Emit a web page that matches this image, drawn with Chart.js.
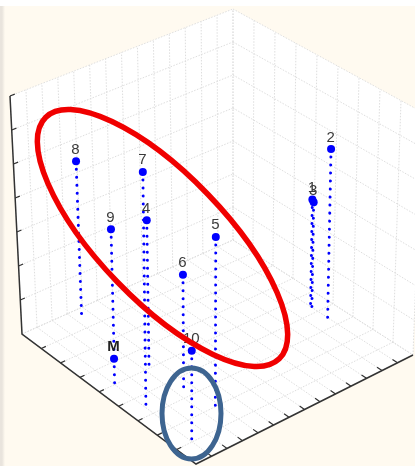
<!DOCTYPE html>
<html>
<head>
<meta charset="utf-8">
<title>3D scatter</title>
<script src="https://cdn.jsdelivr.net/npm/chart.js@4/dist/chart.umd.min.js"></script>
<style>
    html, body { margin: 0; padding: 0; width: 415px; height: 466px; overflow: hidden; }
    body {
        background:
            linear-gradient(#fff 6px, rgba(255, 255, 255, 0) 6px),
            linear-gradient(90deg, #e9e4dd 2px, rgba(255, 250, 240, 0) 5px),
            #fffaf0;
    }
    canvas { display: block; }
</style>
</head>
<body>
<canvas id="chart" width="415" height="466"></canvas>
<script>
// values, in grid units of the 3D box
var pointLabels = ['8', '7', '4', '9', 'M', '6', '5', '10', '1', '3', '2'];
var pointX = [0.43, 5.48, 4.07, 2.72, 3.96, 5.82, 7.25, 7.9, 4.72, 4.74, 5.56];
var pointY = [3.4, 1.17, 3.17, 2.6, 1.05, 3.2, 3.45, 1.1, 12.9, 12.96, 12.92];
var pointZ = [4.6, 6.52, 4.28, 3.63, 0.71, 3.37, 4.89, 2.44, 3.2, 3.11, 4.97];

var gridX = 9;
var gridY = 14;
var gridZ = 7;

// where the corners of the box sit in the picture (perspective view)
var floorCorners = { a: [22, 334], b: [196, 464], c: [413, 355], d: [233, 240] };
var topCorners = { a: [10, 96], b: [197, 205], c: [422, 112], d: [233, 9] };

function lerp(a, b, t) {
    return a + (b - a) * t;
}

function corner(set, s, t, i) {
    return lerp(lerp(set.a[i], set.b[i], s), lerp(set.d[i], set.c[i], s), t);
}

function project(x, y, z) {
    var s = x / gridX, t = y / gridY, w = z / gridZ;
    return {
        x: lerp(corner(floorCorners, s, t, 0), corner(topCorners, s, t, 0), w),
        y: lerp(corner(floorCorners, s, t, 1), corner(topCorners, s, t, 1), w)
    };
}

var GAP = { x: NaN, y: NaN };

function buildGrid() {
    var out = [];
    function seg(p, q) {
        out.push(project(p[0], p[1], p[2]), project(q[0], q[1], q[2]), GAP);
    }
    for (var i = 0; i <= gridX; i++) {
        seg([i, 0, 0], [i, gridY, 0]);
        seg([i, gridY, 0], [i, gridY, gridZ]);
    }
    for (var j = 0; j <= gridY; j++) {
        seg([0, j, 0], [gridX, j, 0]);
        seg([0, j, 0], [0, j, gridZ]);
    }
    for (var k = 0; k <= gridZ; k++) {
        seg([0, 0, k], [0, gridY, k]);
        seg([0, gridY, k], [gridX, gridY, k]);
    }
    return out;
}

function buildTicks() {
    var out = [];
    function seg(p, q) {
        out.push(project(p[0], p[1], p[2]), project(q[0], q[1], q[2]), GAP);
    }
    for (var i = 1; i < gridX; i++) seg([i, 0, 0], [i, 0.3, 0]);
    for (var j = 1; j < gridY; j++) seg([gridX, j, 0], [gridX - 0.25, j, 0]);
    for (var k = 1; k <= gridZ; k++) seg([0, 0, k], [0, 0.3, k]);
    return out;
}

function buildStems() {
    var out = [];
    pointX.forEach(function(x, i) {
        out.push(project(x, pointY[i], pointZ[i]), project(x, pointY[i], 0), GAP);
    });
    return out;
}

var markers = pointX.map(function(x, i) {
    return project(x, pointY[i], pointZ[i]);
});

var overlayPlugin = {
    id: 'overlay',
    afterDatasetsDraw: function(chart) {
        var ctx = chart.ctx;
        var sx = chart.scales.x, sy = chart.scales.y;

        // point names sit just above each marker
        ctx.save();
        ctx.textAlign = 'center';
        ctx.textBaseline = 'alphabetic';
        markers.forEach(function(m, i) {
            var bold = pointLabels[i] === 'M';
            ctx.font = (bold ? 'bold ' : '') + '15px "Liberation Sans", Arial, sans-serif';
            ctx.fillStyle = bold ? '#222' : '#3a3a3a';
            ctx.fillText(pointLabels[i], sx.getPixelForValue(m.x) - 0.5, sy.getPixelForValue(m.y) - 7.5);
        });

        // hand drawn rings
        ctx.lineWidth = 5.5;
        ctx.strokeStyle = '#f00000';
        ctx.beginPath();
        ctx.ellipse(sx.getPixelForValue(162.5), sy.getPixelForValue(238), 168, 63, 46 * Math.PI / 180, 0, Math.PI * 2);
        ctx.stroke();

        ctx.lineWidth = 5;
        ctx.strokeStyle = '#3d6490';
        ctx.beginPath();
        ctx.ellipse(sx.getPixelForValue(191.5), sy.getPixelForValue(413.5), 29.5, 45.5, 0, 0, Math.PI * 2);
        ctx.stroke();
        ctx.restore();
    }
};

new Chart(document.getElementById('chart'), {
    type: 'scatter',
    data: {
        datasets: [
            {
                label: 'box',
                data: [
                    project(0, 0, 0), project(0, 0, gridZ), project(0, gridY, gridZ),
                    project(gridX, gridY, gridZ), project(gridX, gridY, 0), project(gridX, 0, 0)
                ],
                showLine: true,
                fill: 'shape',
                backgroundColor: '#ffffff',
                borderWidth: 0,
                pointRadius: 0,
                order: 6
            },
            {
                label: 'grid',
                data: buildGrid(),
                showLine: true,
                borderColor: '#dedede',
                borderWidth: 1,
                borderDash: [1.5, 1.5],
                pointRadius: 0,
                order: 5
            },
            {
                label: 'axes',
                data: [project(0, 0, gridZ), project(0, 0, 0), project(gridX, 0, 0), project(gridX, gridY, 0)],
                showLine: true,
                borderColor: '#333333',
                borderWidth: 1.5,
                pointRadius: 0,
                order: 4
            },
            {
                label: 'ticks',
                data: buildTicks(),
                showLine: true,
                borderColor: '#333333',
                borderWidth: 1.2,
                pointRadius: 0,
                order: 3
            },
            {
                label: 'stems',
                data: buildStems(),
                showLine: true,
                borderColor: '#0000ff',
                borderWidth: 3,
                borderDash: [0.01, 8],
                borderCapStyle: 'round',
                pointRadius: 0,
                order: 2
            },
            {
                label: 'points',
                data: markers,
                backgroundColor: '#0000ff',
                borderColor: '#0000ff',
                pointRadius: 4,
                pointBorderWidth: 0,
                order: 1
            }
        ]
    },
    options: {
        responsive: false,
        animation: false,
        layout: { padding: 0, autoPadding: false },
        plugins: {
            legend: { display: false },
            tooltip: { enabled: false }
        },
        scales: {
            x: { type: 'linear', min: 0, max: 415, display: false },
            y: { type: 'linear', min: 0, max: 466, reverse: true, display: false }
        }
    },
    plugins: [overlayPlugin]
});
</script>
</body>
</html>
